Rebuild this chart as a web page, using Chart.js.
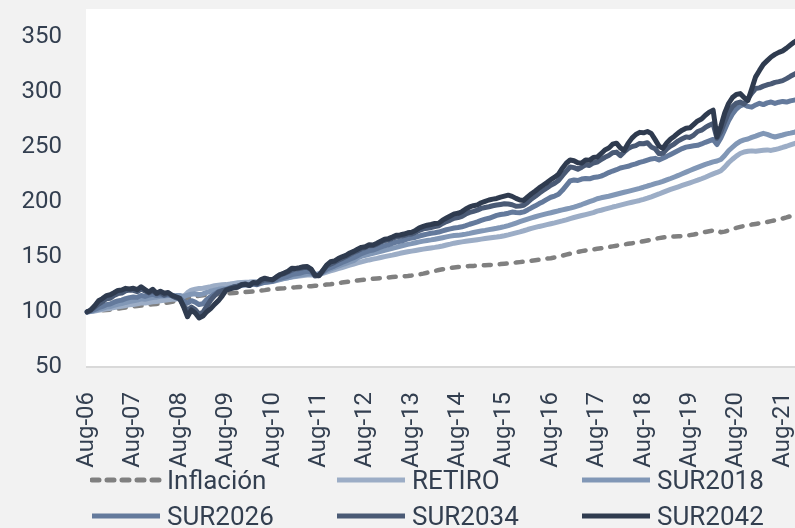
<!DOCTYPE html>
<html>
<head>
<meta charset="utf-8">
<script src="https://cdn.jsdelivr.net/npm/chart.js@4/dist/chart.umd.min.js"></script>
<style>
  html, body { margin: 0; padding: 0; background: #f2f2f2; overflow: hidden; width: 795px; height: 528px; }
  #wrap { position: absolute; left: 0; top: 0; width: 802px; height: 528px; }
  #legend { position: absolute; left: 90px; top: 462px; width: 735px; display: grid;
    grid-template-columns: 245px 245px 245px; grid-auto-rows: 36px;
    font-family: Roboto, sans-serif; font-size: 26px; color: #333f50; }
  .item { display: flex; align-items: center; white-space: nowrap; }
  .item svg { margin-right: 5px; }
</style>
</head>
<body>
<div id="wrap"><canvas id="chart"></canvas></div>
<div id="legend"></div>
<script>
// monthly index values, Aug-06 = 100
const inflacion = [
  100, 100.4, 100.9, 101.2, 101.5, 101.8, 102.1, 102.4, 102.9, 103.5, 104.0, 104.6,
  105.0, 105.4, 105.8, 106.3, 106.6, 106.9, 107.2, 107.6, 108.0, 108.6, 109.3, 110.0,
  110.8, 111.6, 112.5, 113.3, 114.0, 114.6, 115.1, 115.5, 115.8, 116.0, 116.2, 116.4,
  116.6, 116.9, 117.2, 117.5, 117.8, 118.0, 118.3, 118.6, 119.0, 119.4, 119.8, 120.3,
  120.7, 121.0, 121.3, 121.5, 121.8, 122.1, 122.3, 122.6, 122.8, 123.1, 123.4, 123.8,
  124.0, 124.4, 124.8, 125.2, 125.7, 126.2, 126.7, 127.2, 127.7, 128.2, 128.6, 129.0,
  129.4, 129.8, 130.1, 130.4, 130.7, 131.0, 131.3, 131.6, 131.9, 132.2, 132.4, 132.6,
  133.0, 133.5, 134.1, 134.8, 135.6, 136.4, 137.2, 138.0, 138.7, 139.3, 139.9, 140.4,
  140.8, 141.1, 141.4, 141.6, 141.8, 142.0, 142.2, 142.4, 142.6, 142.8, 143.1, 143.4,
  143.7, 144.0, 144.4, 144.8, 145.2, 145.6, 146.0, 146.4, 146.9, 147.4, 147.9, 148.4,
  148.8, 149.4, 150.2, 151.1, 152.0, 152.9, 153.7, 154.5, 155.2, 155.8, 156.3, 156.8,
  157.3, 157.8, 158.3, 158.9, 159.5, 160.1, 160.7, 161.3, 161.8, 162.3, 162.9, 163.5,
  164.2, 164.9, 165.6, 166.3, 167.0, 167.6, 168.0, 168.3, 168.5, 168.7, 168.9, 169.2,
  169.7, 170.3, 171.0, 171.8, 172.6, 173.3, 173.9, 174.2, 172.4, 172.9, 174.0, 175.2,
  176.3, 177.2, 178.0, 178.7, 179.3, 179.9, 180.5, 181.1, 181.7, 182.4, 183.1, 183.9,
  184.8, 185.8, 186.9, 187.9, 188.9, 189.8
];
const retiro = [
  100, 100.3, 100.9, 101.5, 102.1, 102.8, 103.2, 103.9, 104.6, 105.1, 105.8, 106.4,
  106.8, 107.4, 108.1, 108.0, 108.6, 109.2, 109.5, 110.1, 110.5, 111.0, 111.4, 111.6,
  112.2, 114.0, 117.5, 119.8, 120.6, 121.2, 121.5, 122.3, 123.0, 123.8, 124.2, 124.6,
  124.8, 125.3, 125.9, 126.4, 126.8, 127.0, 127.2, 127.5, 127.3, 128.5, 127.9, 128.2,
  128.5, 129.2, 129.9, 130.5, 131.0, 131.6, 132.1, 132.6, 133.1, 133.5, 133.8, 133.4,
  134.0, 135.0, 136.2, 137.3, 138.3, 139.3, 140.3, 141.4, 142.4, 143.4, 144.5, 145.5,
  146.4, 147.2, 147.9, 148.6, 149.4, 150.2, 150.9, 151.6, 152.4, 153.2, 153.9, 154.6,
  155.2, 155.8, 156.4, 157.0, 157.6, 158.1, 158.6, 159.2, 159.9, 160.7, 161.5, 162.4,
  163.0, 163.6, 164.1, 164.6, 165.1, 165.6, 166.1, 166.6, 167.1, 167.6, 168.0, 168.5,
  169.2, 170.0, 170.9, 171.8, 172.7, 173.7, 174.8, 175.8, 176.7, 177.6, 178.4, 179.2,
  180.0, 180.8, 181.7, 182.6, 183.6, 184.7, 185.7, 186.6, 187.5, 188.4, 189.3, 190.2,
  191.5, 192.3, 193.3, 194.3, 195.2, 196.0, 196.9, 197.8, 198.7, 199.6, 200.4, 201.2,
  202.2, 203.3, 204.5, 205.8, 207.1, 208.5, 209.9, 211.2, 212.4, 213.6, 214.8, 216.0,
  217.2, 218.4, 219.6, 220.9, 222.3, 223.8, 225.3, 226.6, 228.2, 231.5, 235.4, 238.6,
  241.5, 243.8, 245.2, 245.8, 246.2, 245.9, 246.4, 246.8, 247.1, 246.6, 247.4, 248.3,
  249.3, 250.4, 251.6, 252.8, 253.9, 254.8
];
const sur2018 = [
  100, 100.6, 101.5, 102.4, 103.3, 104.4, 104.9, 105.9, 106.9, 107.6, 108.6, 109.4,
  110.0, 110.8, 111.9, 111.5, 112.4, 113.1, 113.4, 114.2, 114.4, 114.9, 115.1, 114.8,
  114.9, 114.0, 115.2, 116.0, 116.4, 115.6, 116.4, 117.8, 118.9, 119.8, 120.5, 121.0,
  121.3, 122.0, 122.9, 123.6, 124.3, 124.8, 125.2, 125.8, 125.6, 126.2, 126.8, 127.2,
  127.6, 128.5, 129.4, 130.2, 131.0, 131.8, 132.5, 133.2, 133.9, 134.5, 134.9, 133.8,
  134.6, 136.0, 137.5, 138.9, 140.2, 141.5, 142.8, 144.1, 145.4, 146.6, 149.0, 150.4,
  151.3, 152.3, 153.1, 154.0, 155.0, 156.0, 156.8, 157.7, 158.6, 159.6, 160.5, 161.3,
  162.0, 162.8, 163.6, 164.3, 164.9, 165.4, 166.0, 166.7, 167.4, 168.1, 168.8, 169.4,
  169.5, 170.0, 170.6, 171.3, 172.1, 172.8, 173.4, 174.0, 174.7, 175.3, 175.9, 176.6,
  177.4, 178.4, 179.5, 180.7, 181.9, 183.1, 184.3, 185.4, 186.4, 187.4, 188.3, 189.2,
  190.0, 190.9, 191.8, 192.6, 193.4, 194.2, 195.2, 196.3, 197.5, 198.8, 200.1, 201.3,
  202.7, 203.6, 204.3, 205.0, 205.9, 206.8, 207.7, 208.6, 209.5, 210.4, 211.3, 212.2,
  213.2, 214.3, 215.3, 216.4, 217.4, 218.5, 219.8, 221.1, 222.5, 223.9, 225.4, 226.9,
  228.4, 229.8, 231.2, 232.6, 233.9, 235.0, 236.2, 237.0, 238.4, 242.0, 246.3, 249.5,
  252.6, 254.9, 256.2, 257.0, 258.4, 259.6, 261.0, 262.1, 261.2, 259.9, 258.8, 259.7,
  260.6, 261.6, 262.3, 263.1, 264.0, 264.8
];
const sur2026 = [
  100, 100.9, 102.3, 103.8, 105.0, 106.6, 107.2, 108.8, 110.0, 110.7, 112.1, 113.0,
  113.6, 113.2, 115.0, 114.1, 115.3, 116.1, 114.8, 115.6, 114.9, 115.8, 114.6, 113.2,
  112.5, 109.6, 108.0, 110.2, 108.9, 106.7, 107.4, 111.3, 114.0, 116.2, 118.4, 119.6,
  120.3, 121.5, 122.4, 123.0, 124.2, 124.6, 124.1, 125.3, 124.7, 126.0, 126.9, 127.3,
  127.8, 129.2, 130.6, 131.5, 132.4, 133.9, 134.6, 135.1, 136.2, 136.8, 136.3, 133.0,
  133.6, 136.1, 138.7, 140.3, 141.6, 143.2, 144.9, 146.3, 147.8, 149.2, 151.0, 152.9,
  154.3, 155.5, 156.2, 157.4, 158.9, 160.1, 160.9, 162.2, 163.4, 164.2, 165.1, 166.4,
  167.0, 167.8, 168.9, 169.8, 170.6, 171.4, 171.9, 172.5, 173.6, 174.6, 175.4, 176.2,
  176.6, 177.3, 178.4, 179.6, 180.7, 181.8, 183.1, 184.2, 185.0, 186.3, 187.6, 188.4,
  188.9, 189.6, 190.7, 190.2, 190.0, 190.8, 192.6, 194.5, 196.3, 198.4, 200.1, 202.2,
  204.1, 205.2, 206.8, 210.4, 214.6, 218.9, 219.8, 219.3, 220.6, 221.2, 220.8, 222.0,
  222.4, 223.3, 224.8, 226.5, 227.9, 229.1, 230.6, 231.4, 232.2, 233.5, 234.4, 235.7,
  236.6, 237.8, 238.9, 239.4, 238.0, 239.6, 241.2, 243.0, 244.8, 246.6, 248.3, 249.6,
  250.2, 250.8, 251.3, 252.5, 254.0, 255.3, 256.6, 252.0, 258.0, 265.7, 273.5, 279.6,
  284.2, 287.1, 288.3, 286.6, 285.9, 287.9, 289.4, 288.2, 289.8, 290.6, 289.3, 290.4,
  291.1, 290.5, 291.6, 292.3, 293.0, 293.4
];
const sur2034 = [
  100, 101.6, 104.5, 107.1, 109.3, 111.9, 112.4, 115.0, 116.6, 117.1, 119.2, 119.8,
  119.6, 118.4, 120.9, 119.0, 117.3, 119.2, 116.4, 117.5, 115.3, 116.8, 114.6, 113.0,
  111.7, 105.8, 101.3, 104.4, 102.1, 98.0, 99.6, 105.3, 110.6, 114.7, 118.0, 119.2,
  120.1, 121.5, 122.9, 123.4, 124.9, 125.4, 124.0, 126.0, 125.2, 127.6, 129.3, 129.0,
  129.2, 131.4, 133.5, 134.8, 136.2, 138.1, 138.9, 139.4, 140.3, 140.5, 138.4, 132.6,
  133.0, 137.2, 141.8, 143.4, 145.0, 146.9, 148.6, 150.3, 152.1, 153.9, 155.6, 157.4,
  158.4, 160.0, 160.2, 161.6, 163.4, 164.8, 165.3, 166.7, 168.0, 168.6, 169.3, 170.4,
  170.8, 172.2, 174.1, 175.4, 176.0, 176.6, 177.4, 178.2, 180.3, 182.0, 183.4, 185.0,
  185.6, 186.8, 188.9, 190.4, 191.3, 192.4, 194.0, 194.8, 195.5, 196.4, 197.0, 197.6,
  198.2, 198.0, 197.3, 195.9, 196.2, 196.8, 199.4, 202.6, 205.1, 207.8, 210.2, 212.5,
  215.0, 216.8, 219.3, 223.7, 227.8, 231.6, 231.0, 229.5, 231.4, 233.6, 232.9, 235.2,
  236.1, 238.2, 240.4, 242.0, 244.5, 245.1, 241.8, 245.3, 248.2, 250.1, 251.0, 253.0,
  252.7, 253.6, 249.8, 248.2, 243.6, 244.0, 247.8, 250.5, 252.6, 255.3, 257.2, 258.9,
  258.4, 260.6, 263.8, 265.0, 267.5, 269.4, 271.0, 257.6, 263.4, 272.7, 281.0, 286.3,
  289.5, 290.5, 288.7, 293.4, 298.6, 302.8, 303.4, 305.0, 306.2, 307.0, 308.4, 309.1,
  310.0, 311.8, 313.9, 315.8, 317.6, 318.4
];
const sur2042 = [
  100, 101.9, 105.6, 110.2, 112.1, 114.8, 115.6, 117.4, 119.5, 119.9, 121.4, 120.8,
  121.5, 120.2, 122.9, 120.4, 118.0, 120.6, 116.9, 118.8, 117.0, 117.6, 115.1, 113.8,
  112.3, 104.6, 95.6, 101.8, 99.0, 94.5, 96.2, 100.2, 103.0, 106.9, 110.2, 114.6,
  119.8, 120.9, 121.8, 122.4, 124.6, 125.1, 124.0, 126.8, 126.2, 129.3, 130.6, 129.8,
  129.2, 131.8, 134.0, 135.3, 137.0, 139.7, 139.5, 140.2, 141.0, 141.2, 138.9, 133.4,
  132.8, 137.5, 142.4, 145.5, 146.2, 148.4, 150.0, 151.4, 153.5, 155.0, 156.9, 158.6,
  159.2, 161.0, 160.8, 162.3, 164.2, 166.0, 166.5, 168.0, 169.6, 169.9, 170.7, 171.8,
  172.4, 174.0, 176.3, 177.6, 178.7, 179.4, 180.3, 180.6, 183.3, 185.2, 187.1, 189.0,
  189.5, 191.0, 193.4, 195.3, 196.4, 197.2, 199.1, 200.4, 201.6, 202.4, 203.0, 204.2,
  205.1, 206.0, 204.9, 203.1, 201.6, 201.2, 204.4, 207.3, 209.8, 212.6, 215.0, 217.4,
  220.1, 222.3, 225.1, 230.5, 235.0, 237.9, 237.2, 235.4, 235.2, 238.0, 237.6, 240.1,
  240.6, 243.6, 247.0, 248.7, 252.3, 253.2, 249.0, 246.7, 253.0, 257.8, 261.1, 263.0,
  262.6, 263.8, 262.0, 256.4, 250.5, 248.5, 253.3, 257.0, 259.5, 262.6, 265.0, 266.8,
  267.1, 270.3, 273.4, 275.1, 278.6, 281.4, 283.2, 258.8, 268.5, 280.6, 289.2, 294.6,
  297.4, 298.2, 294.6, 292.0, 302.5, 313.4, 319.2, 324.7, 328.1, 331.4, 333.8, 335.6,
  337.0, 339.5, 342.3, 345.0, 347.2, 348.0
];

const seriesNames = ['Inflación', 'RETIRO', 'SUR2018', 'SUR2026', 'SUR2034', 'SUR2042'];
const seriesData = [inflacion, retiro, sur2018, sur2026, sur2034, sur2042];
const seriesColors = ['#808080', '#9cadc6', '#8197b6', '#647a9c', '#4a5a75', '#2f3b4f'];
const yTicks = [50, 100, 150, 200, 250, 300, 350];

// month labels Aug-06 ... , only August gets a tick label
const monthNames = ['Jan','Feb','Mar','Apr','May','Jun','Jul','Aug','Sep','Oct','Nov','Dec'];
const labels = [];
for (let m = 0; m < inflacion.length; m++) {
  const k = 7 + m;
  const yr = (2006 + Math.floor(k / 12)) % 100;
  labels.push(monthNames[k % 12] + '-' + String(yr).padStart(2, '0'));
}

Chart.defaults.font.family = "Roboto, sans-serif";
Chart.defaults.color = '#333f50';

// white plot area
const plotBg = {
  id: 'plotBg',
  beforeDraw(chart) {
    const a = chart.chartArea;
    chart.ctx.save();
    chart.ctx.fillStyle = '#ffffff';
    chart.ctx.fillRect(a.left - 1, a.top, chart.width - a.left + 1, a.bottom - a.top);
    chart.ctx.restore();
  }
};

const datasets = seriesNames.map(function (name, i) {
  return {
    label: name,
    data: seriesData[i],
    borderColor: seriesColors[i],
    borderWidth: i === 0 ? 4.5 : 5,
    borderDash: i === 0 ? [7, 9] : [],
    borderCapStyle: 'round',
    borderJoinStyle: 'round',
    pointRadius: 0,
    tension: 0,
    order: 5 - i
  };
});

new Chart(document.querySelector('#chart'), {
  type: 'line',
  data: { labels: labels, datasets: datasets },
  plugins: [plotBg],
  options: {
    responsive: true,
    maintainAspectRatio: false,
    animation: false,
    layout: { padding: { top: 9, left: 22, right: 0, bottom: 46 } },
    plugins: { legend: { display: false }, tooltip: { enabled: false } },
    scales: {
      x: {
        grid: { display: false, drawTicks: false },
        border: { display: true, color: '#d9d9d9', width: 2 },
        afterFit: function (s) { s.paddingLeft = 0; s.paddingRight = 0; s.height = 115; },
        ticks: {
          autoSkip: false,
          maxRotation: 90,
          minRotation: 90,
          padding: 25,
          font: { size: 24 },
          callback: function (v) {
            const l = this.getLabelForValue(v);
            return l.startsWith('Aug') ? l : '';
          }
        }
      },
      y: {
        min: 50,
        max: 375,
        grid: { display: false, drawTicks: false },
        border: { display: false },
        afterBuildTicks: function (s) {
          s.ticks = yTicks.map(function (v) { return { value: v }; });
        },
        afterFit: function (s) { s.paddingTop = 0; s.paddingBottom = 0; s.width = 65; },
        ticks: { padding: 25, font: { size: 24 } }
      }
    }
  }
});

// legend in three columns
const legend = document.querySelector('#legend');
seriesNames.forEach(function (name, i) {
  const item = document.createElement('div');
  item.className = 'item';
  const dash = i === 0 ? ' stroke-dasharray="7 8" stroke-linecap="round"' : ' stroke-linecap="butt"';
  item.innerHTML = '<svg width="72" height="8"><line x1="2" y1="4" x2="70" y2="4" stroke="' +
    seriesColors[i] + '" stroke-width="5"' + dash + '/></svg><span>' + name + '</span>';
  legend.appendChild(item);
});
</script>
</body>
</html>
